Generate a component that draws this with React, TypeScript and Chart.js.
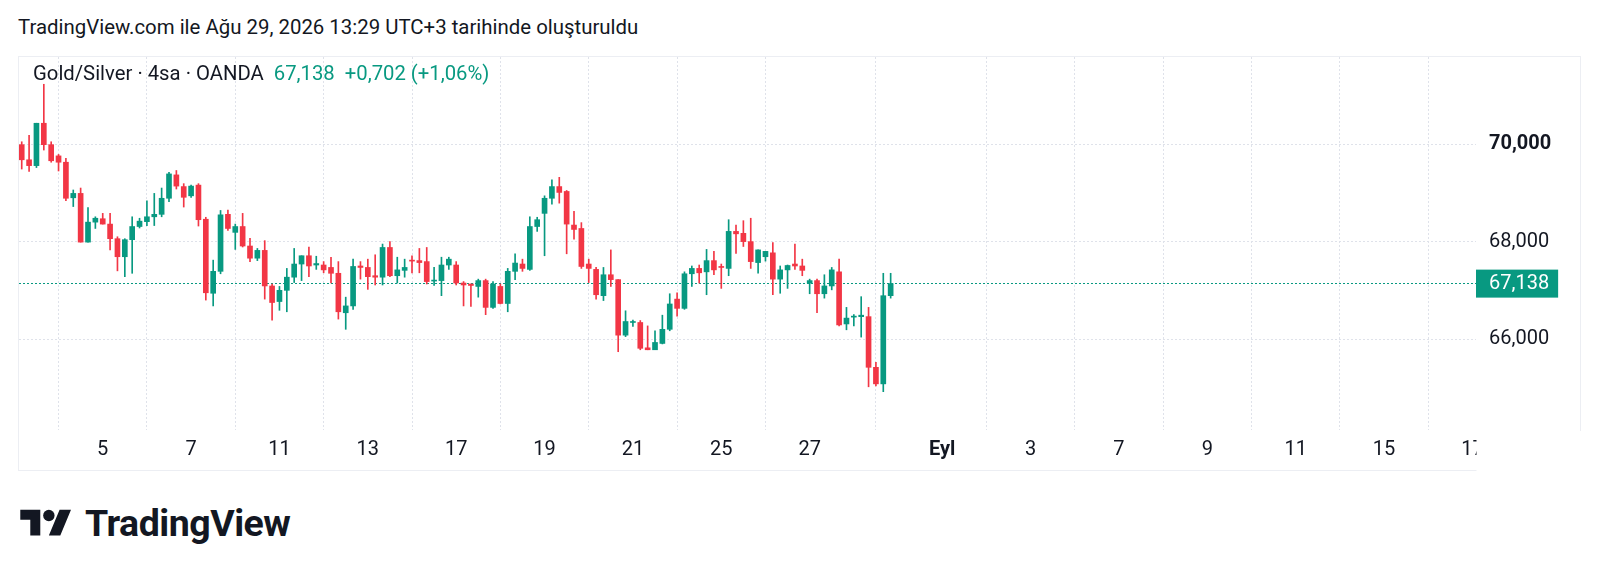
import React, { useEffect, useRef } from "react";
import { Chart, registerables } from "chart.js";

Chart.register(...registerables);

// 4h candles, OANDA Gold/Silver, Aug 3 04:00 -> Aug 28 20:00 (UTC+3)
const opens = [
  69.99, 69.68, 69.56, 70.43, 69.99, 69.76, 69.63, 68.9, 68.99, 67.99,
  68.4, 68.47, 68.36, 68.06, 67.69, 68.04, 68.31, 68.41, 68.51, 68.56,
  68.89, 69.37, 69.13, 68.94, 69.16, 68.46, 66.94, 67.39, 68.56, 68.19,
  68.31, 67.91, 67.66, 67.82, 67.09, 66.77, 67.0, 67.27, 67.54, 67.71,
  67.52, 67.52, 67.47, 67.35, 66.54, 66.68, 67.5, 67.47, 67.3, 67.27,
  67.88, 67.3, 67.41, 67.62, 67.61, 67.59, 67.19, 67.2, 67.52, 67.52,
  67.15, 67.13, 67.08, 67.2, 66.65, 67.08, 66.73, 67.39, 67.54, 67.43,
  68.31, 68.58, 68.89, 69.13, 69.03, 68.34, 68.27, 67.54, 67.43, 66.89,
  67.32, 67.22, 66.08, 66.34, 66.34, 65.82, 65.78, 65.91, 66.2, 66.82,
  66.63, 67.34, 67.45, 67.38, 67.61, 67.49, 67.45, 68.21, 68.17, 68.0,
  67.57, 67.69, 67.77, 67.23, 67.42, 67.54, 67.5, 67.15, 67.2, 66.93,
  67.09, 67.38, 66.31, 66.45, 66.46, 66.46, 65.42, 65.08, 66.89,
];
const highs = [
  70.05, 70.18, 70.43, 71.23, 70.05, 69.79, 69.71, 69.06, 69.1, 68.7,
  68.51, 68.58, 68.58, 68.1, 68.06, 68.51, 68.48, 68.84, 68.99, 69.1,
  69.42, 69.46, 69.19, 69.16, 69.19, 68.5, 67.62, 68.64, 68.65, 68.36,
  68.58, 68.07, 67.86, 68.02, 67.13, 67.08, 67.45, 67.86, 67.71, 67.89,
  67.7, 67.59, 67.68, 67.59, 66.86, 67.64, 67.59, 67.64, 67.73, 67.95,
  68.0, 67.68, 67.64, 67.71, 67.86, 67.88, 67.47, 67.68, 67.68, 67.59,
  67.18, 67.13, 67.23, 67.23, 67.18, 67.13, 67.45, 67.75, 67.64, 68.51,
  68.5, 68.94, 69.27, 69.32, 69.05, 68.62, 68.39, 67.64, 67.47, 67.47,
  67.83, 67.22, 66.58, 66.39, 66.38, 66.27, 66.17, 66.49, 66.93, 66.95,
  67.38, 67.5, 67.52, 67.84, 67.8, 67.54, 68.45, 68.34, 68.43, 68.48,
  67.83, 67.8, 67.98, 67.5, 67.52, 67.95, 67.64, 67.23, 67.23, 67.32,
  67.47, 67.64, 66.65, 66.5, 66.87, 66.65, 65.52, 67.35, 67.35,
];
const lows = [
  69.49, 69.44, 69.52, 69.88, 69.63, 69.45, 68.84, 68.72, 67.99, 67.99,
  68.27, 68.36, 67.83, 67.4, 67.28, 67.35, 68.28, 68.33, 68.33, 68.51,
  68.82, 69.08, 68.71, 68.91, 68.32, 66.8, 66.68, 67.34, 68.23, 67.84,
  67.89, 67.59, 67.61, 66.82, 66.39, 66.59, 66.56, 67.16, 67.2, 67.28,
  67.43, 67.36, 67.15, 66.41, 66.2, 66.61, 67.23, 67.02, 67.11, 67.11,
  67.28, 67.15, 67.27, 67.36, 67.36, 67.13, 67.1, 66.89, 67.43, 67.11,
  66.68, 66.67, 66.86, 66.5, 66.63, 66.72, 66.56, 67.22, 67.39, 67.41,
  68.21, 67.71, 68.77, 68.79, 67.75, 68.05, 67.45, 67.16, 66.82, 66.79,
  67.08, 65.74, 66.05, 66.26, 65.78, 65.78, 65.78, 65.9, 66.17, 66.47,
  66.61, 67.08, 67.15, 66.91, 67.32, 67.04, 67.3, 67.76, 67.9, 67.45,
  67.35, 67.6, 66.91, 66.94, 67.04, 67.43, 67.3, 66.93, 66.54, 66.84,
  67.01, 66.27, 66.19, 66.27, 66.04, 65.02, 65.04, 64.92, 66.84,
];
const closes = [
  69.68, 69.56, 70.43, 69.99, 69.66, 69.63, 68.89, 68.99, 67.99, 68.4,
  68.48, 68.36, 68.06, 67.69, 68.04, 68.31, 68.42, 68.51, 68.56, 68.89,
  69.39, 69.14, 68.91, 69.14, 68.45, 66.95, 67.39, 68.55, 68.27, 68.31,
  67.91, 67.66, 67.82, 67.09, 66.75, 67.0, 67.27, 67.54, 67.71, 67.5,
  67.55, 67.42, 67.35, 66.56, 66.68, 67.49, 67.47, 67.28, 67.27, 67.88,
  67.3, 67.42, 67.47, 67.6, 67.57, 67.18, 67.21, 67.52, 67.64, 67.15,
  67.11, 67.1, 67.2, 66.65, 67.13, 66.73, 67.39, 67.56, 67.45, 68.31,
  68.45, 68.89, 69.13, 69.01, 68.36, 68.25, 67.49, 67.45, 66.91, 67.32,
  67.22, 66.08, 66.36, 66.36, 65.81, 65.78, 65.93, 66.2, 66.72, 66.63,
  67.34, 67.45, 67.36, 67.61, 67.42, 67.47, 68.21, 68.16, 68.0, 67.59,
  67.83, 67.8, 67.23, 67.42, 67.51, 67.5, 67.41, 67.2, 66.93, 67.09,
  67.42, 66.29, 66.43, 66.47, 66.49, 65.42, 65.08, 66.89, 67.138,
];

// time axis: bar-slot index of each day label (6 bars per trading day)
const timeTickSlots = [11, 23, 35, 47, 59, 71, 83, 95, 107, 125, 137, 149, 161, 173, 185, 197];
const timeTickLabels = ["5", "7", "11", "13", "17", "19", "21", "25", "27", "Eyl", "3", "7", "9", "11", "15", "17"];
const priceTicks = [66, 68, 70];
const boldPriceTick = 70;
const lastPrice = closes[closes.length - 1];
const changeText = "+0,702 (+1,06%)";

const UP = "#089981";
const DOWN = "#F23645";
const TEXT = "#131722";
const GRID = "#dfe2ea";
const FONT = "Roboto";

const fmtPrice = (v: number) => v.toFixed(3).replace(".", ",");

function CandleChart() {
  const ref = useRef<HTMLCanvasElement | null>(null);
  useEffect(() => {
    if (!ref.current) return;
    const idx = opens.map((_, i) => i);
    const colors = idx.map((i) => (closes[i] >= opens[i] ? UP : DOWN));
    const coverClippedLabel = {
      id: "coverClippedLabel",
      afterDraw(chart: any) {
        const { ctx, chartArea, width, height } = chart;
        ctx.save();
        ctx.fillStyle = "#ffffff";
        ctx.fillRect(chartArea.right + 0.5, chartArea.bottom + 1, width - chartArea.right, height - chartArea.bottom);
        ctx.restore();
      },
    };
    const chart = new Chart(ref.current, {
      type: "bar",
      data: {
        datasets: [
          {
            data: idx.map((i) => ({ x: i, y: [lows[i], highs[i]] })) as any,
            backgroundColor: colors,
            barThickness: 1,
            grouped: false,
            order: 2,
          } as any,
          {
            data: idx.map((i) => ({ x: i, y: [opens[i], closes[i]] })) as any,
            backgroundColor: colors,
            barThickness: 5,
            grouped: false,
            minBarLength: 1,
            order: 1,
          } as any,
        ],
      },
      options: {
        animation: false,
        responsive: false,
        events: [],
        layout: { padding: 0 },
        plugins: { legend: { display: false }, tooltip: { enabled: false } },
        scales: {
          x: {
            type: "linear",
            min: -0.37,
            max: 197.49,
            offset: false,
            grid: { color: GRID, drawTicks: false, lineWidth: 1 },
            border: { display: false, dash: [2, 2] },
            afterBuildTicks: (s: any) => {
              s.ticks = timeTickSlots.map((v) => ({ value: v }));
            },
            afterFit: (s: any) => {
              s.height = 41;
              s.paddingLeft = 0;
              s.paddingRight = 0;
              s.paddingTop = 0;
              s.paddingBottom = 0;
            },
            ticks: {
              autoSkip: false,
              maxRotation: 0,
              padding: 8,
              color: TEXT,
              font: (c: any) => {
                const lab = timeTickLabels[timeTickSlots.indexOf(c.tick ? c.tick.value : -1)];
                return { family: FONT, size: 20, weight: lab && isNaN(Number(lab)) ? "bold" : "normal" };
              },
              callback: (v: any) => timeTickLabels[timeTickSlots.indexOf(Number(v))] ?? "",
            },
          },
          y: {
            type: "linear",
            position: "right",
            min: 64.133,
            max: 71.79,
            grid: {
              drawTicks: false,
              lineWidth: 1,
              color: (c: any) => (c.tick && c.tick.value === lastPrice ? UP : GRID),
            },
            border: { display: false, dash: [2, 2] },
            afterBuildTicks: (s: any) => {
              s.ticks = [...priceTicks, lastPrice].map((v) => ({ value: v }));
            },
            afterFit: (s: any) => {
              s.width = 105;
              s.paddingLeft = 0;
              s.paddingRight = 0;
              s.paddingTop = 0;
              s.paddingBottom = 0;
            },
            ticks: {
              padding: 13,
              color: (c: any) => (c.tick && c.tick.value === lastPrice ? "#ffffff" : TEXT),
              font: (c: any) => ({
                family: FONT,
                size: 20,
                weight: c.tick && c.tick.value === boldPriceTick ? "bold" : "normal",
              }),
              showLabelBackdrop: (c: any) => !!(c.tick && c.tick.value === lastPrice),
              backdropColor: UP,
              backdropPadding: { left: 13, right: 9, top: 2, bottom: 2 },
              callback: (v: any) => fmtPrice(Number(v)),
            },
          },
        },
      } as any,
      plugins: [coverClippedLabel],
    });
    return () => chart.destroy();
  }, []);
  return (
    <canvas
      ref={ref}
      width={1562}
      height={414}
      style={{ position: "absolute", left: 19, top: 57, width: 1562, height: 414 }}
    />
  );
}

function TvLogo() {
  return (
    <svg
      width={52}
      height={40}
      viewBox="0 0 36 28"
      style={{ position: "absolute", left: 20, top: 504 }}
    >
      <path d="M14 22H7V11H0V4h14v18zM28 22h-8l7.5-18h8L28 22z" fill={TEXT} />
      <circle cx="20" cy="8" r="4" fill={TEXT} />
    </svg>
  );
}

export default function App() {
  return (
    <div
      style={{
        position: "absolute",
        left: 0,
        top: 0,
        width: 1600,
        height: 573,
        background: "#ffffff",
        overflow: "hidden",
        fontFamily: FONT,
        color: TEXT,
      }}
    >
      <div
        style={{
          position: "absolute",
          left: 18,
          top: 17,
          fontSize: 20.4,
          lineHeight: "20px",
          whiteSpace: "nowrap",
        }}
      >
        TradingView.com ile Ağu 29, 2026 13:29 UTC+3 tarihinde oluşturuldu
      </div>
      <div
        style={{
          position: "absolute",
          left: 18,
          top: 56,
          width: 1561,
          height: 413,
          border: "1px solid #eceef3",
        }}
      />
      <CandleChart />
      <div
        style={{
          position: "absolute",
          left: 33,
          top: 63,
          fontSize: 20.3,
          lineHeight: "20px",
          whiteSpace: "nowrap",
        }}
      >
        <span>Gold/Silver · 4sa · OANDA</span>
        <span style={{ color: UP, marginLeft: 10 }}>{fmtPrice(lastPrice)}</span>
        <span style={{ color: UP, marginLeft: 10 }}>{changeText}</span>
      </div>
      <TvLogo />
      <div
        style={{
          position: "absolute",
          left: 85,
          top: 504,
          fontSize: 37.5,
          lineHeight: "38px",
          fontWeight: 700,
          letterSpacing: -0.5,
          whiteSpace: "nowrap",
        }}
      >
        TradingView
      </div>
    </div>
  );
}
